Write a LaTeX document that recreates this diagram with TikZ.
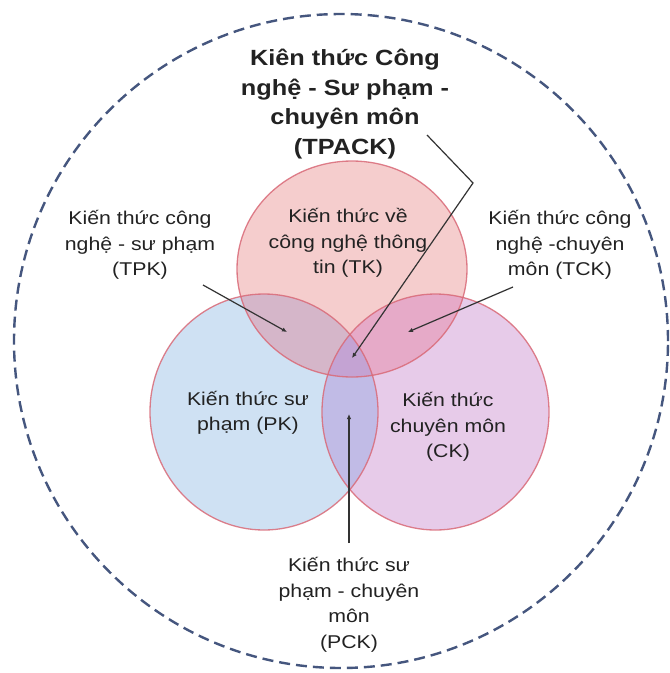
\documentclass[tikz,border=0pt]{standalone}
\usepackage{fontspec}
\setmainfont{Liberation Sans}[FakeStretch=1.15]
\usetikzlibrary{arrows.meta}
\definecolor{txt}{HTML}{222222}
\definecolor{outerc}{HTML}{45567E}
\definecolor{rim}{HTML}{D96A78}
\definecolor{tkc}{HTML}{F5CDCD}
\definecolor{pkc}{HTML}{CFE1F3}
\definecolor{ckc}{HTML}{E7CBE9}
\definecolor{tpc}{HTML}{D5B6C9}
\definecolor{tcc}{HTML}{E6AAC8}
\definecolor{pcc}{HTML}{C1BBE6}
\definecolor{allc}{HTML}{C4A3D3}
\definecolor{arr}{HTML}{333333}
\begin{document}
\begin{tikzpicture}[x=1pt,y=-1pt,
  lbl/.style={align=center,text=txt,font=\fontsize{18.5}{25.5}\selectfont,inner sep=0pt},
  ttl/.style={align=center,text=txt,font=\bfseries\fontsize{22}{29.5}\selectfont,inner sep=0pt},
  conn/.style={draw=arr,line width=1.2pt,-{Latex[length=5pt,width=4.5pt]}},
  rimline/.style={draw=rim,line width=1.3pt,draw opacity=0.85}]
\useasboundingbox (0,0) rectangle (670,673);
\fill[white] (0,0) rectangle (670,673);
% outer dashed circle
\draw[outerc,line width=2.4pt,dash pattern=on 11pt off 6pt] (341,341) circle [radius=327pt];
% base fills
\def\TK{(352,269) ellipse [x radius=115pt,y radius=108pt]}
\def\PK{(264,412) ellipse [x radius=114pt,y radius=118pt]}
\def\CK{(435.5,412) ellipse [x radius=113.5pt,y radius=118pt]}
\fill[pkc] \PK;
\fill[ckc] \CK;
\fill[tkc] \TK;
\begin{scope}\clip \PK; \fill[pcc] \CK; \end{scope}
\begin{scope}\clip \TK; \fill[tpc] \PK; \end{scope}
\begin{scope}\clip \TK; \fill[tcc] \CK; \end{scope}
\begin{scope}\clip \TK; \clip \PK; \fill[allc] \CK; \end{scope}
\draw[rimline] \PK;
\draw[rimline] \CK;
\draw[rimline] \TK;
% texts
\node[ttl] (tpack) at (345,104) {Kiên thức Công\\nghệ - Sư phạm -\\chuyên môn\\(TPACK)};
\node[lbl] (tk) at (348,243) {Kiến thức về\\công nghệ thông\\tin (TK)};
\node[lbl] (tpk) at (140,245) {Kiến thức công\\nghệ - sư phạm\\(TPK)};
\node[lbl] (tck) at (560,245) {Kiến thức công\\nghệ -chuyên\\môn (TCK)};
\node[lbl] (pk) at (248,413) {Kiến thức sư\\phạm (PK)};
\node[lbl] (ck) at (448,427) {Kiến thức\\chuyên môn\\(CK)};
\node[lbl] (pck) at (349,605) {Kiến thức sư\\phạm - chuyên\\môn\\(PCK)};
% connector points
\coordinate (tpackS) at (427,135);
\coordinate (kink) at (473,183);
\coordinate (tpackE) at (352,358);
\coordinate (tpkS) at (203,285);
\coordinate (tpkE) at (287,332);
\coordinate (tckS) at (513,287);
\coordinate (tckE) at (408,332);
\coordinate (pckS) at (349,543);
\coordinate (pckE) at (349,414);
\draw[conn] (tpackS) -- (kink) -- (tpackE);
\draw[conn] (tpkS) -- (tpkE);
\draw[conn] (tckS) -- (tckE);
\draw[conn] (pckS) -- (pckE);
\end{tikzpicture}
\end{document}
